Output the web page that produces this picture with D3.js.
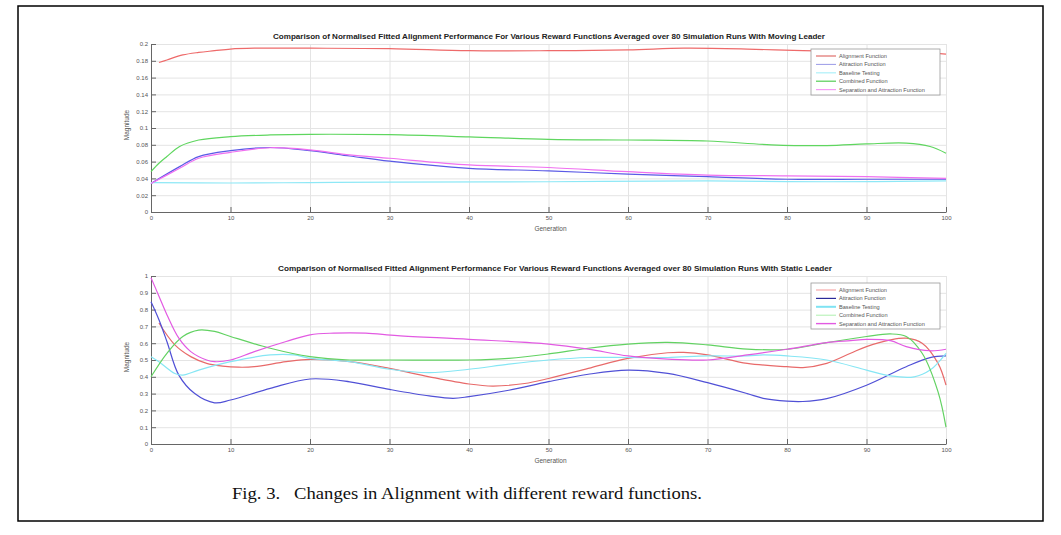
<!DOCTYPE html>
<html>
<head>
<meta charset="utf-8">
<script src="https://cdn.jsdelivr.net/npm/d3@7"></script>
<style>
  body { margin: 0; background: #fff; }
  svg { display: block; }
  .tick text { font-family: "Liberation Sans", Arial, sans-serif; font-size: 6px; fill: #555; }
  .axis path, .axis line { stroke: #666; }
  .grid line { stroke: #e4e4e4; }
  .grid path { stroke: none; }
  .line { fill: none; stroke-width: 1.2; }
</style>
</head>
<body>
<div id="fig"></div>
<script>
// ---- data ----
const seriesNames = ["Alignment Function", "Attraction Function", "Baseline Testing", "Combined Function", "Separation and Attraction Function"];

const xTicks = [0, 10, 20, 30, 40, 50, 60, 70, 80, 90, 100];
const topYTicks = [0, 0.02, 0.04, 0.06, 0.08, 0.1, 0.12, 0.14, 0.16, 0.18, 0.2];
const botYTicks = [0, 0.1, 0.2, 0.3, 0.4, 0.5, 0.6, 0.7, 0.8, 0.9, 1];

// moving leader
const topAlignX = [1, 2, 4, 6, 8, 10, 13, 20, 30, 40, 50, 60, 67, 75, 82, 90, 95, 100];
const topAlignY = [0.178, 0.181, 0.187, 0.190, 0.192, 0.194, 0.195, 0.195, 0.1945, 0.192, 0.192, 0.193, 0.195, 0.194, 0.192, 0.191, 0.191, 0.188];
const topAttrX = [0, 3.6, 6, 10, 15, 20, 25, 30, 40, 50, 60, 70, 80, 90, 100];
const topAttrY = [0.034, 0.054, 0.066, 0.073, 0.0768, 0.073, 0.0667, 0.0605, 0.052, 0.049, 0.045, 0.042, 0.039, 0.039, 0.039];
const topBaseX = [0, 10, 20, 30, 50, 70, 85, 100];
const topBaseY = [0.035, 0.0345, 0.035, 0.0355, 0.036, 0.037, 0.036, 0.037];
const topCombX = [0, 1, 2, 3.6, 6, 10, 15, 20, 30, 40, 50, 60, 70, 78, 85, 90, 95, 98, 100];
const topCombY = [0.048, 0.058, 0.066, 0.078, 0.0857, 0.0897, 0.0917, 0.0925, 0.092, 0.0895, 0.0865, 0.0857, 0.0845, 0.080, 0.079, 0.081, 0.082, 0.078, 0.070];
const topSepX = [0, 3.6, 6, 10, 15, 20, 25, 30, 40, 50, 60, 70, 80, 90, 100];
const topSepY = [0.034, 0.052, 0.064, 0.071, 0.0765, 0.074, 0.068, 0.064, 0.056, 0.053, 0.048, 0.044, 0.043, 0.042, 0.040];

// static leader
const botAlignX = [1, 3, 5, 7, 9, 11, 13, 17, 20, 25, 30, 35, 40, 43, 47, 50, 55, 60, 65, 67, 70, 75, 80, 82, 85, 88, 90, 93, 95, 97, 99, 100];
const botAlignY = [0.72, 0.59, 0.52, 0.48, 0.464, 0.457, 0.46, 0.49, 0.504, 0.49, 0.45, 0.40, 0.357, 0.345, 0.36, 0.39, 0.45, 0.51, 0.543, 0.545, 0.53, 0.48, 0.46, 0.455, 0.48, 0.54, 0.58, 0.62, 0.63, 0.60, 0.48, 0.35];
const botAttrX = [0, 1, 2, 3.5, 5.5, 8, 10, 15, 20, 25, 30, 35, 38, 40, 45, 50, 55, 60, 65, 70, 75, 77, 80, 82, 85, 90, 95, 98, 100];
const botAttrY = [0.847, 0.74, 0.61, 0.41, 0.30, 0.245, 0.262, 0.331, 0.387, 0.37, 0.325, 0.286, 0.272, 0.282, 0.32, 0.371, 0.415, 0.44, 0.42, 0.365, 0.30, 0.272, 0.255, 0.253, 0.27, 0.35, 0.46, 0.514, 0.524];
const botBaseX = [0, 1, 3, 4, 6, 10, 15, 18, 20, 25, 30, 35, 40, 45, 50, 55, 60, 65, 70, 75, 77, 80, 85, 90, 93, 96, 98, 100];
const botBaseY = [0.52, 0.49, 0.42, 0.41, 0.44, 0.49, 0.53, 0.53, 0.51, 0.49, 0.445, 0.425, 0.445, 0.475, 0.50, 0.515, 0.515, 0.515, 0.524, 0.524, 0.53, 0.524, 0.50, 0.44, 0.405, 0.40, 0.44, 0.54];
const botCombX = [0, 2, 4, 6, 8, 10, 15, 20, 25, 30, 40, 45, 50, 55, 60, 65, 70, 75, 80, 85, 90, 93, 95, 97, 99, 100];
const botCombY = [0.40, 0.54, 0.64, 0.678, 0.67, 0.64, 0.57, 0.52, 0.50, 0.50, 0.50, 0.51, 0.536, 0.57, 0.595, 0.605, 0.59, 0.565, 0.564, 0.603, 0.64, 0.655, 0.64, 0.54, 0.31, 0.10];
const botSepX = [0, 1, 2, 3.5, 5, 7, 8, 10, 13, 17, 20, 23, 27, 31, 40, 50, 55, 60, 65, 70, 75, 80, 85, 88, 90, 93, 95, 98, 100];
const botSepY = [0.99, 0.88, 0.77, 0.63, 0.55, 0.50, 0.49, 0.50, 0.55, 0.61, 0.65, 0.66, 0.66, 0.645, 0.623, 0.595, 0.565, 0.524, 0.505, 0.50, 0.53, 0.564, 0.603, 0.615, 0.623, 0.615, 0.58, 0.555, 0.564];

const topColors = ["#ee6a6a", "#5a5ae6", "#8ee8f6", "#5fd65f", "#f070f0"];
const topLegend = ["#d9534f", "#7f7fe0", "#b8f2fa", "#55cc55", "#f59af5"];
const botColors = ["#e86a6a", "#5050d6", "#86e6f4", "#62d262", "#e25ae2"];
const botLegend = ["#f6a9a9", "#2a2a99", "#7fe3f3", "#aef0ae", "#e25ae2"];

class Panel {

  constructor(svg, opts){
    this.svg = svg;
    this.left = 151;
    this.right = 946;
    this.top = opts.top;
    this.bottom = opts.bottom;
    this.opts = opts;

    this.x = d3.scaleLinear().domain([0, 100]).range([this.left, this.right]);
    this.y = d3.scaleLinear().domain(opts.yDomain).range([this.bottom, this.top]);
  }

  draw(){
    const self = this;
    const g = this.svg.append("g");
    const h = this.bottom - this.top;
    const w = this.right - this.left;

    // grid
    g.append("g").attr("class", "grid")
      .attr("transform", "translate(0," + this.bottom + ")")
      .call(d3.axisBottom(this.x).tickValues(xTicks).tickSize(-h).tickFormat(""));
    g.append("g").attr("class", "grid")
      .attr("transform", "translate(" + this.left + ",0)")
      .call(d3.axisLeft(this.y).tickValues(this.opts.yTicks).tickSize(-w).tickFormat(""));

    // axes, ticks pointing inward
    g.append("g").attr("class", "axis")
      .attr("transform", "translate(0," + this.bottom + ")")
      .call(d3.axisBottom(this.x).tickValues(xTicks).tickSizeInner(-5).tickSizeOuter(0).tickPadding(4));
    g.append("g").attr("class", "axis")
      .attr("transform", "translate(" + this.left + ",0)")
      .call(d3.axisLeft(this.y).tickValues(this.opts.yTicks).tickSizeInner(-5).tickSizeOuter(0).tickPadding(3).tickFormat(d3.format("~g")));

    g.append("text")
      .attr("x", (this.left + this.right) / 2 + 2)
      .attr("y", this.bottom + 19)
      .attr("text-anchor", "middle")
      .style("font", "6.5px 'Liberation Sans', Arial, sans-serif")
      .style("fill", "#555")
      .text("Generation");

    g.append("text")
      .attr("transform", "translate(" + (this.left - 22) + "," + ((this.top + this.bottom) / 2 - 3) + ") rotate(-90)")
      .attr("text-anchor", "middle")
      .style("font", "6.5px 'Liberation Sans', Arial, sans-serif")
      .style("fill", "#555")
      .text("Magnitude");

    g.append("text")
      .attr("x", this.opts.titleX)
      .attr("y", this.top - 5)
      .attr("textLength", this.opts.titleW)
      .attr("lengthAdjust", "spacingAndGlyphs")
      .style("font", "bold 7px 'Liberation Sans', Arial, sans-serif")
      .style("fill", "#222")
      .text(this.opts.title);

    const line = d3.line()
      .x(function(d) { return self.x(d.x); })
      .y(function(d) { return self.y(d.y); })
      .curve(d3.curveCatmullRom.alpha(0.5));

    this.opts.series.forEach((s, idx) => {
      const dta = s[0].map((v, i) => ({x: v, y: s[1][i]}));
      g.append("path")
        .datum(dta)
        .attr("class", "line line" + idx)
        .style("stroke", this.opts.colors[idx])
        .attr("d", line);
    });

    // legend
    const lg = g.append("g").attr("transform", "translate(811," + this.opts.legendTop + ")");
    lg.append("rect")
      .attr("width", 129).attr("height", 46)
      .style("fill", "#fff").style("stroke", "#999").style("stroke-width", 0.8);
    seriesNames.forEach((n, i) => {
      const yy = 7 + i * 8.4;
      lg.append("line")
        .attr("x1", 5).attr("x2", 25).attr("y1", yy).attr("y2", yy)
        .style("stroke", this.opts.legendColors[i])
        .style("stroke-width", this.opts.legendWidth[i]);
      lg.append("text")
        .attr("x", 28).attr("y", yy + 2)
        .style("font", "5.6px 'Liberation Sans', Arial, sans-serif")
        .style("fill", "#555")
        .text(n);
    });
  }
}

const svg = d3.select("#fig").append("svg")
  .attr("width", 1061)
  .attr("height", 535);

svg.append("rect").attr("width", 1061).attr("height", 535).style("fill", "#fff");

new Panel(svg, {
  top: 44, bottom: 212,
  yDomain: [0, 0.2], yTicks: topYTicks,
  title: "Comparison of Normalised Fitted Alignment Performance For Various Reward Functions Averaged over 80 Simulation Runs With Moving Leader",
  titleX: 273, titleW: 552,
  series: [[topAlignX, topAlignY], [topAttrX, topAttrY], [topBaseX, topBaseY], [topCombX, topCombY], [topSepX, topSepY]],
  colors: topColors, legendColors: topLegend, legendWidth: [1, 0.8, 1.4, 1.2, 1.2],
  legendTop: 49
}).draw();

new Panel(svg, {
  top: 276, bottom: 444,
  yDomain: [0, 1], yTicks: botYTicks,
  title: "Comparison of Normalised Fitted Alignment Performance For Various Reward Functions Averaged over 80 Simulation Runs With Static Leader",
  titleX: 278, titleW: 554,
  series: [[botAlignX, botAlignY], [botAttrX, botAttrY], [botBaseX, botBaseY], [botCombX, botCombY], [botSepX, botSepY]],
  colors: botColors, legendColors: botLegend, legendWidth: [1.2, 1.2, 2, 1, 1.4],
  legendTop: 283
}).draw();

// page frame + caption
svg.append("rect")
  .attr("x", 18).attr("y", 6).attr("width", 1025).attr("height", 515)
  .style("fill", "none").style("stroke", "#000").style("stroke-width", 1.5);

svg.append("text")
  .attr("x", 232).attr("y", 499)
  .attr("textLength", 470)
  .attr("lengthAdjust", "spacingAndGlyphs")
  .style("font", "17.5px 'Liberation Serif', 'Times New Roman', serif")
  .style("fill", "#111")
  .attr("xml:space", "preserve")
  .text("Fig. 3.   Changes in Alignment with different reward functions.");
</script>
</body>
</html>
